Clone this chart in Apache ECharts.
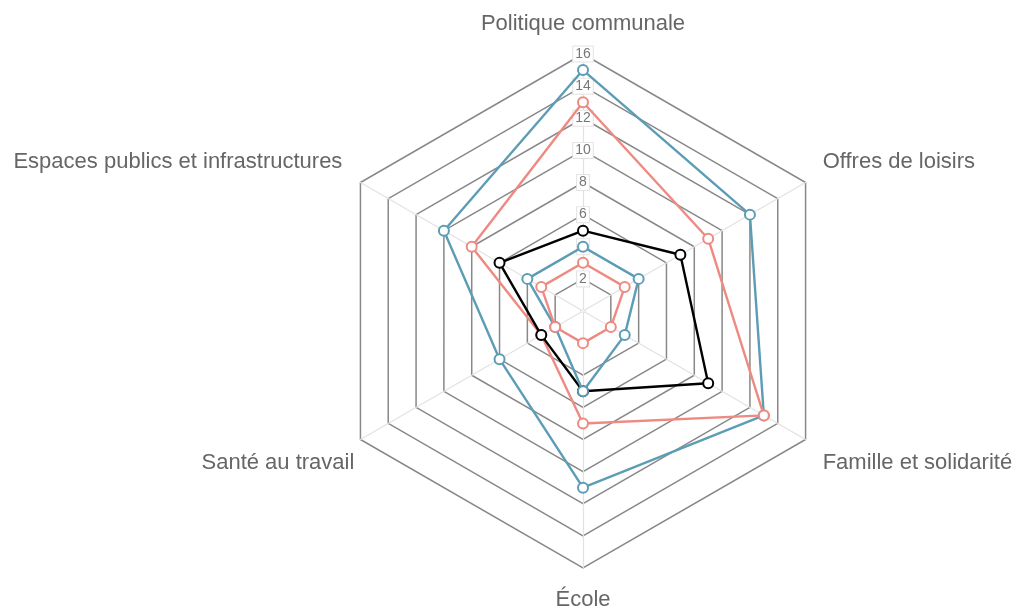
<!DOCTYPE html>
<html>
<head>
<meta charset="utf-8">
<script src="https://cdn.jsdelivr.net/npm/echarts@6/dist/echarts.min.js"></script>
<style>html,body{margin:0;padding:0;background:#fff}#c{width:1017px;height:610px}</style>
</head>
<body>
<div id="c"></div>
<script>
// Axes in clockwise order starting at the top
const indicators = ["Politique communale", "Offres de loisirs", "Famille et solidarité", "École", "Santé au travail", "Espaces publics et infrastructures"];
const axisMax = 16;
const tickStep = 2;
const seriesNames = ["Série 1", "Série 2", "Série 3", "Série 4", "Série 5"];
const seriesColors = ["#5c9db5", "#ee8a82", "#000000", "#5c9db5", "#ee8a82"];
const serie1 = [15, 12, 13, 11, 6, 10];
const serie2 = [13, 9, 13, 7, 3, 8];
const serie3 = [5, 7, 9, 5, 3, 6];
const serie4 = [4, 4, 3, 5, 2, 4];
const serie5 = [3, 3, 2, 2, 2, 3];
const allSeries = [serie1, serie2, serie3, serie4, serie5];

// label placement style per axis (clockwise order)
const nameStyleKeys = ["top", "ur", "lr", "bottom", "ll", "ul"];

// ECharts places radar indicators counter-clockwise: reorder (top first, then reversed)
const order = [0, 5, 4, 3, 2, 1];
const ind = order.map((i, k) => {
  const o = { name: indicators[i], min: 0, max: axisMax };
  if (k === 0) {
    o.axisLabel = {
      show: true, color: '#777', fontSize: 14, fontFamily: 'Liberation Sans, Arial, sans-serif',
      backgroundColor: '#fff', borderColor: '#e3e3e3', borderWidth: 1, padding: [1, 2, 0, 2],
      align: 'center', verticalAlign: 'middle', margin: 0, rotate: 0,
      formatter: v => (v === 0 ? '' : String(v))
    };
  }
  return o;
});

const base = { fontSize: 22, color: '#666', fontFamily: 'Liberation Sans, Arial, sans-serif', lineHeight: 22 };
const rich = {
  top: Object.assign({}, base, { padding: [0, 0, 11, 0] }),
  bottom: Object.assign({}, base, { padding: [28, 0, 0, 0] }),
  ur: Object.assign({}, base, { padding: [0, 0, 34, 11] }),
  lr: Object.assign({}, base, { padding: [39, 0, 0, 11] }),
  ll: Object.assign({}, base, { padding: [39, 0, 0, 0] }),
  ul: Object.assign({}, base, { padding: [0, 12, 34, 0] })
};

const chart = echarts.init(document.getElementById('c'), null, { renderer: 'canvas' });
chart.setOption({
  animation: false,
  backgroundColor: '#fff',
  radar: {
    center: [583, 311],
    radius: 257,
    startAngle: 90,
    shape: 'polygon',
    splitNumber: axisMax / tickStep,
    indicator: ind,
    axisName: {
      color: '#666', fontSize: 22, fontFamily: 'Liberation Sans, Arial, sans-serif',
      rich: rich,
      formatter: function (name) {
        const key = nameStyleKeys[indicators.indexOf(name)];
        return '{' + key + '|' + name + '}';
      }
    },
    nameGap: 7,
    splitLine: { lineStyle: { color: '#888', width: 1.5 } },
    splitArea: { show: false },
    axisLine: { lineStyle: { color: '#e2e2e2', width: 1.2 } },
    axisTick: { show: false },
    axisLabel: { show: false }
  },
  series: allSeries.map((vals, s) => ({
    type: 'radar',
    name: seriesNames[s],
    symbol: 'emptyCircle',
    symbolSize: 10,
    z: 2 + s,
    lineStyle: { color: seriesColors[s], width: 2.4 },
    itemStyle: { color: seriesColors[s], borderWidth: 2.4 },
    data: [{ name: seriesNames[s], value: order.map(i => vals[i]) }]
  }))
});
</script>
</body>
</html>
